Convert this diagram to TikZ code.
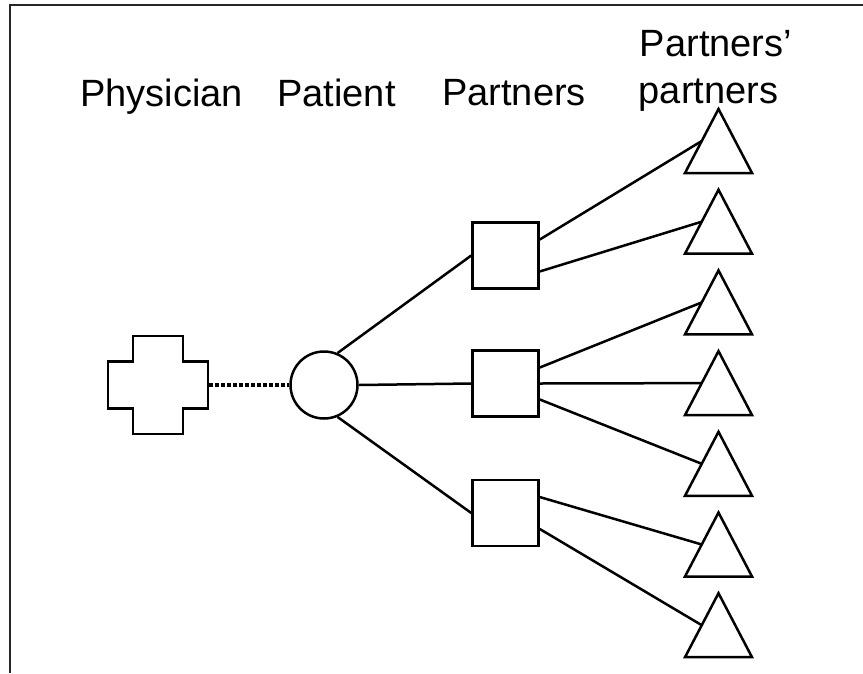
\documentclass[tikz,border=0pt]{standalone}
\usepackage{fontspec}
\setmainfont{Liberation Sans}
\begin{document}
\begin{tikzpicture}[x=1pt,y=-1pt,line width=2.5pt,
    headtext/.style={anchor=base,inner sep=0pt,font=\fontsize{38}{45}\selectfont},
    partnerbox/.style={draw,rectangle,minimum size=66pt,inner sep=0pt},
    patientnode/.style={draw,circle,minimum size=67pt,inner sep=0pt}]
\useasboundingbox (0,0) rectangle (863,673);

\draw[line width=1.8pt,color=black!85] (10,673) -- (10,5) -- (863,5) ; % frame

\node[headtext] (physicianlbl) at (161.5,106) {Physician};
\node[headtext] (patientlbl) at (336.5,106) {Patient};
\node[headtext] (partnerslbl) at (514,105) {Partners};
\node[headtext] (pplbltop) at (716,56) {Partners'};
\node[headtext] (pplblbot) at (708.5,103) {partners};

\node[minimum width=100pt,minimum height=98pt,inner sep=0pt] (physician) at (158,385) {}; % Physician
\draw (physician.center) ++(-25,-49) -- ++(50,0) -- ++(0,25.5) -- ++(25,0) -- ++(0,47) -- ++(-25,0)
      -- ++(0,25.5) -- ++(-50,0) -- ++(0,-25.5) -- ++(-25,0) -- ++(0,-47) -- ++(25,0) -- cycle ;
\node[patientnode] (patient) at (324,385) {}; % Patient

\node[partnerbox] (sq1) at (505.5,255.5) {}; % Partner.1
\node[partnerbox] (sq2) at (505.5,383.5) {}; % Partner.2
\node[partnerbox] (sq3) at (505.5,513) {}; % Partner.3

\foreach \i in {1,...,7} {
  \coordinate (pp\i) at (701.75,{141+80.7*(\i-1)}); % PartnersPartner.\i
  \draw (718.5,{109+80.7*(\i-1)}) -- ++(33.5,64) -- ++(-67,0) -- cycle ;
}

\draw[dash pattern=on 3.5pt off 2.5pt,line width=3.5pt] (physician.east) -- (patient.west) ;
\draw (patient.67) -- (sq1.west) ;
\draw (patient.0) -- (sq2.west) ;
\draw (patient.-67) -- (sq3.west) ;

\draw (sq1.25) -- (pp1) ;
\draw (sq1.-25) -- (pp2) ;
\draw (sq2.25) -- (pp3) ;
\draw (sq2.0) -- (pp4) ;
\draw (sq2.-25) -- (pp5) ;
\draw (sq3.25) -- (pp6) ;
\draw (sq3.-25) -- (pp7) ;
\end{tikzpicture}
\end{document}
